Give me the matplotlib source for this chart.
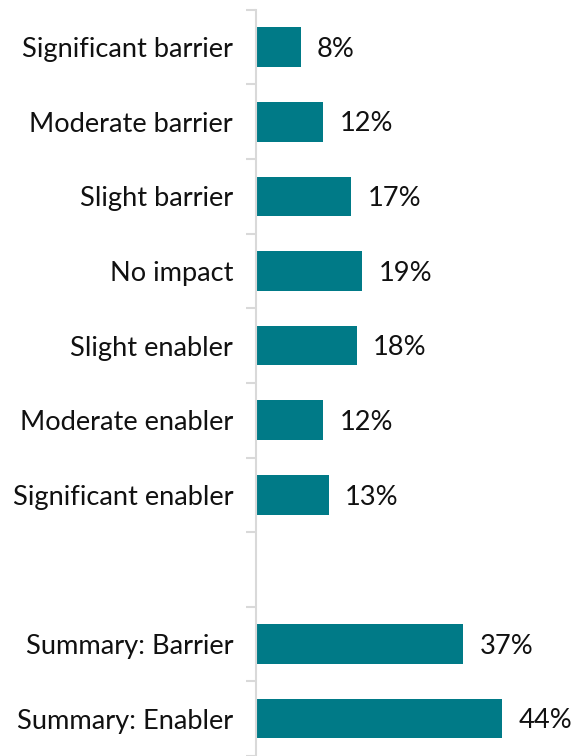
import matplotlib
matplotlib.use("Agg")
import matplotlib.pyplot as plt
import numpy as np

categories = ["Significant barrier", "Moderate barrier", "Slight barrier", "No impact",
              "Slight enabler", "Moderate enabler", "Significant enabler", "",
              "Summary: Barrier", "Summary: Enabler"]
values = [8, 12, 17, 19, 18, 12, 13, None, 37, 44]

plt.rcParams['font.family'] = ['Lato', 'DejaVu Sans']

fig = plt.figure(figsize=(5.74, 7.56), dpi=100)
ax = fig.add_axes([0.446, 0.0, 0.554, 0.987])

n = len(categories)
pos = np.arange(n)
color = "#007A87"
for p, v in zip(pos, values):
    if v is None:
        continue
    ax.barh(p, v, height=0.53, color=color)
    ax.text(v + 2.9, p + 0.03, f"{v}%", va="center", ha="left", fontsize=19.6, color="#111111")

ax.set_ylim(n - 0.5, -0.5)
ax.set_xlim(0, 56.8)
ax.set_yticks(pos)
ax.set_yticklabels(categories, fontsize=19.6, color="#111111")
ax.set_yticks(np.arange(n + 1) - 0.5, minor=True)
ax.tick_params(axis="y", which="major", length=0, pad=16.5)
ax.tick_params(axis="y", which="minor", length=7, width=1.5, color="#D9D9D9")
ax.set_xticks([])
for s in ["top", "right", "bottom"]:
    ax.spines[s].set_visible(False)
ax.spines["left"].set_color("#D9D9D9")
ax.spines["left"].set_linewidth(1.5)

fig.savefig("out.png", dpi=100)
